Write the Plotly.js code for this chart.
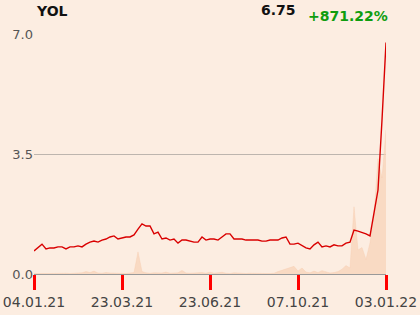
<!DOCTYPE html>
<html>
<head>
<meta charset="utf-8">
<script src="https://cdn.plot.ly/plotly-3.0.1.min.js"></script>
<style>html,body{margin:0;padding:0;background:#fcede1;}#chart{width:420px;height:315px;}</style>
</head>
<body>
<div id="chart"></div>
<script>
var symbol = "YOL";
var lastPrice = "6.75";
var changeText = "+871.22%";

var price = [
  0.67, 0.76, 0.87, 0.73, 0.76, 0.76, 0.79, 0.79, 0.73, 0.79,
  0.79, 0.82, 0.79, 0.87, 0.93, 0.96, 0.93, 0.99, 1.02, 1.08,
  1.11, 1.02, 1.05, 1.08, 1.08, 1.14, 1.31, 1.46, 1.40, 1.40,
  1.17, 1.22, 1.02, 1.05, 0.99, 1.02, 0.90, 0.99, 0.99, 0.96,
  0.93, 0.93, 1.08, 0.99, 1.02, 1.02, 0.99, 1.08, 1.17, 1.17,
  1.02, 1.02, 1.02, 0.99, 0.99, 0.99, 0.99, 0.96, 0.96, 0.99,
  0.99, 0.99, 1.05, 1.08, 0.87, 0.87, 0.90, 0.82, 0.76, 0.73,
  0.85, 0.93, 0.79, 0.82, 0.79, 0.85, 0.82, 0.82, 0.90, 0.93,
  1.28, 1.25, 1.22, 1.17, 1.11, 1.75, 2.45, 4.49, 6.75
];

var volume = [
  0.02, 0.03, 0.04, 0.02, 0.02, 0.03, 0.02, 0.02, 0.03, 0.02,
  0.02, 0.03, 0.05, 0.10, 0.06, 0.12, 0.04, 0.03, 0.06, 0.04,
  0.03, 0.02, 0.03, 0.02, 0.04, 0.06, 0.92, 0.10, 0.05, 0.03,
  0.05, 0.03, 0.04, 0.08, 0.03, 0.04, 0.05, 0.15, 0.04, 0.03,
  0.04, 0.02, 0.06, 0.03, 0.08, 0.03, 0.05, 0.07, 0.03, 0.02,
  0.05, 0.03, 0.02, 0.02, 0.03, 0.02, 0.02, 0.02, 0.02, 0.02,
  0.03, 0.10, 0.15, 0.22, 0.28, 0.32, 0.12, 0.25, 0.08, 0.05,
  0.12, 0.06, 0.14, 0.08, 0.04, 0.06, 0.10, 0.20, 0.35, 0.25,
  2.80, 1.00, 1.10, 0.60, 1.30, 2.50, 4.80, 4.00, 6.00
];

var tickIdx = [0, 22, 44, 66, 88];
var tickLabels = ["04.01.21", "23.03.21", "23.06.21", "07.10.21", "03.01.22"];
var yTicks = [0, 3.5, 7];
var yTickLabels = ["0.0", "3.5", "7.0"];

var idx = price.map(function(_, i){ return i; });

var traces = [
  {
    x: idx, y: volume, type: "scatter", mode: "lines",
    fill: "tozeroy", fillcolor: "rgba(248,210,182,0.7)",
    line: {color: "rgba(248,206,176,0.8)", width: 0.5},
    xaxis: "x", yaxis: "y", hoverinfo: "skip"
  },
  {
    x: idx, y: price, type: "scatter", mode: "lines",
    line: {color: "#d90000", width: 1.4},
    xaxis: "x", yaxis: "y2"
  }
];

var layout = {
  width: 420, height: 315,
  margin: {l: 34, r: 34, t: 34, b: 41},
  paper_bgcolor: "#fcede1", plot_bgcolor: "#fcede1",
  showlegend: false,
  font: {family: "DejaVu Sans", size: 13, color: "#555555"},
  xaxis: {
    range: [0, 88], showgrid: false, zeroline: false,
    showline: true, linecolor: "#999999",
    ticks: "outside", ticklen: 15, tickcolor: "red", tickwidth: 3,
    tickvals: tickIdx, ticktext: tickLabels,
    tickfont: {family: "DejaVu Sans", size: 14, color: "#444444"}
  },
  yaxis: {
    range: [0, 10], showgrid: false, zeroline: false, showline: false,
    showticklabels: false, ticks: ""
  },
  yaxis2: {
    overlaying: "y", side: "left",
    range: [0, 7], tickvals: yTicks, ticktext: yTickLabels,
    showgrid: true, gridcolor: "#bdb5ae", gridwidth: 1,
    zeroline: false, showline: false, ticks: "",
    tickfont: {family: "DejaVu Sans", size: 13, color: "#555555"}
  },
  annotations: [
    {text: "<b>" + symbol + "</b>", xref: "paper", yref: "paper", x: 0.0, y: 1.096,
     xanchor: "left", yanchor: "middle", showarrow: false,
     font: {family: "DejaVu Sans", size: 14, color: "#111111"}},
    {text: "<b>" + lastPrice + "</b>", xref: "paper", yref: "paper", x: 0.751, y: 1.1,
     xanchor: "right", yanchor: "middle", showarrow: false,
     font: {family: "DejaVu Sans", size: 14, color: "#111111"}},
    {text: "<b>" + changeText + "</b>", xref: "paper", yref: "paper", x: 1.012, y: 1.075,
     xanchor: "right", yanchor: "middle", showarrow: false,
     font: {family: "DejaVu Sans", size: 14, color: "#0f9d0f"}}
  ]
};

Plotly.newPlot("chart", traces, layout, {displayModeBar: false, staticPlot: true});
</script>
</body>
</html>
